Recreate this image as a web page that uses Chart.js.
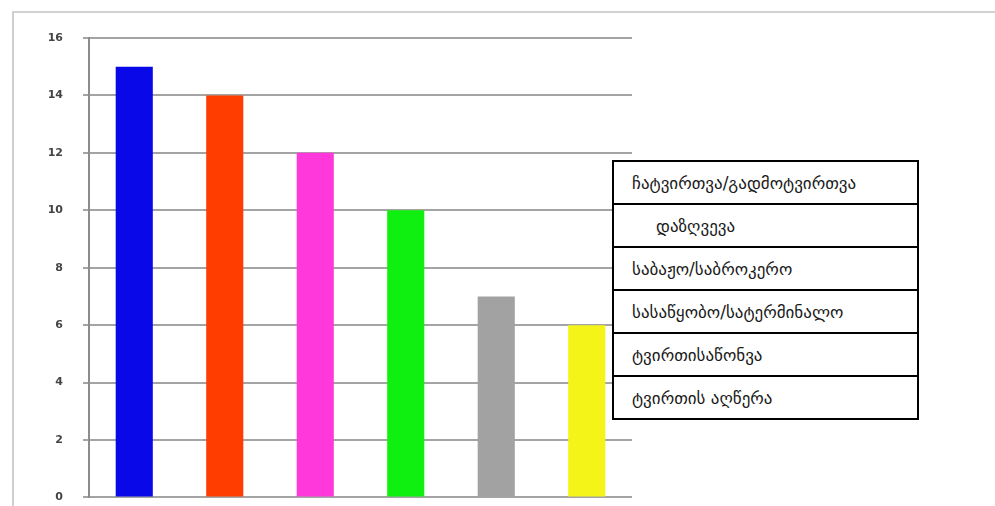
<!DOCTYPE html>
<html lang="ka">
<head>
<meta charset="utf-8">
<script src="https://cdn.jsdelivr.net/npm/chart.js@4"></script>
<style>
  html, body { margin: 0; padding: 0; background: #fff; }
  #wrap { position: relative; width: 995px; height: 506px; overflow: hidden; }
  #frame { position: absolute; left: 12px; top: 11px; right: 0; bottom: 0; border-left: 2px solid #cfcfcf; border-top: 2px solid #d2d2d2; }
  canvas { position: absolute; left: 0; top: 0; filter: blur(0.5px); }
  #legend-table { position: absolute; left: 612px; top: 160px; width: 307px; border: 2px solid #000; border-collapse: collapse; background: #fff; font-family: "DejaVu Sans", sans-serif; font-size: 17px; color: #1a1a1a; }
  #legend-table td { height: 41px; border-bottom: 2px solid #000; padding: 0 0 0 18px; white-space: nowrap; }
  #legend-table tr:last-child td { border-bottom: none; }
  #legend-table td.indent { padding-left: 42px; }
</style>
</head>
<body>
<div id="wrap">
  <div id="frame"></div>
  <canvas id="chart" width="995" height="524"></canvas>
  <table id="legend-table"></table>
</div>
<script>
const categories = ["ჩატვირთვა/გადმოტვირთვა", "დაზღვევა", "საბაჟო/საბროკერო", "სასაწყობო/სატერმინალო", "ტვირთისაწონვა", "ტვირთის აღწერა"];
const values = [15, 14, 12, 10, 7, 6];
const barColors = ["#0808e8", "#ff3d00", "#ff38dc", "#10f010", "#a2a2a2", "#f4f418"];
const yTicks = [0, 2, 4, 6, 8, 10, 12, 14, 16];

const table = document.getElementById("legend-table");
categories.forEach((name, index) => {
  const row = table.insertRow();
  const cell = row.insertCell();
  cell.textContent = name;
  if (index === 1) cell.className = "indent";
});

new Chart(document.getElementById("chart"), {
  type: "bar",
  data: {
    labels: categories,
    datasets: [{
      data: values,
      backgroundColor: barColors,
      borderWidth: 0,
      barPercentage: 0.41,
      categoryPercentage: 1
    }]
  },
  options: {
    responsive: false,
    animation: false,
    layout: { padding: { left: 0, right: 363, top: 38, bottom: 0 } },
    plugins: { legend: { display: false }, tooltip: { enabled: false } },
    scales: {
      x: { display: false },
      y: {
        min: 0,
        max: 16,
        afterBuildTicks: (axis) => { axis.ticks = yTicks.map((value) => ({ value })); },
        afterFit: (axis) => { axis.width = 89; },
        border: { color: "#8c8c8c", width: 2 },
        grid: { color: "#a4a4a4", lineWidth: 2, tickLength: 6 },
        ticks: { color: "#444", padding: 20, font: { family: "DejaVu Sans", size: 11, weight: "bold" } }
      }
    }
  }
});
</script>
</body>
</html>
